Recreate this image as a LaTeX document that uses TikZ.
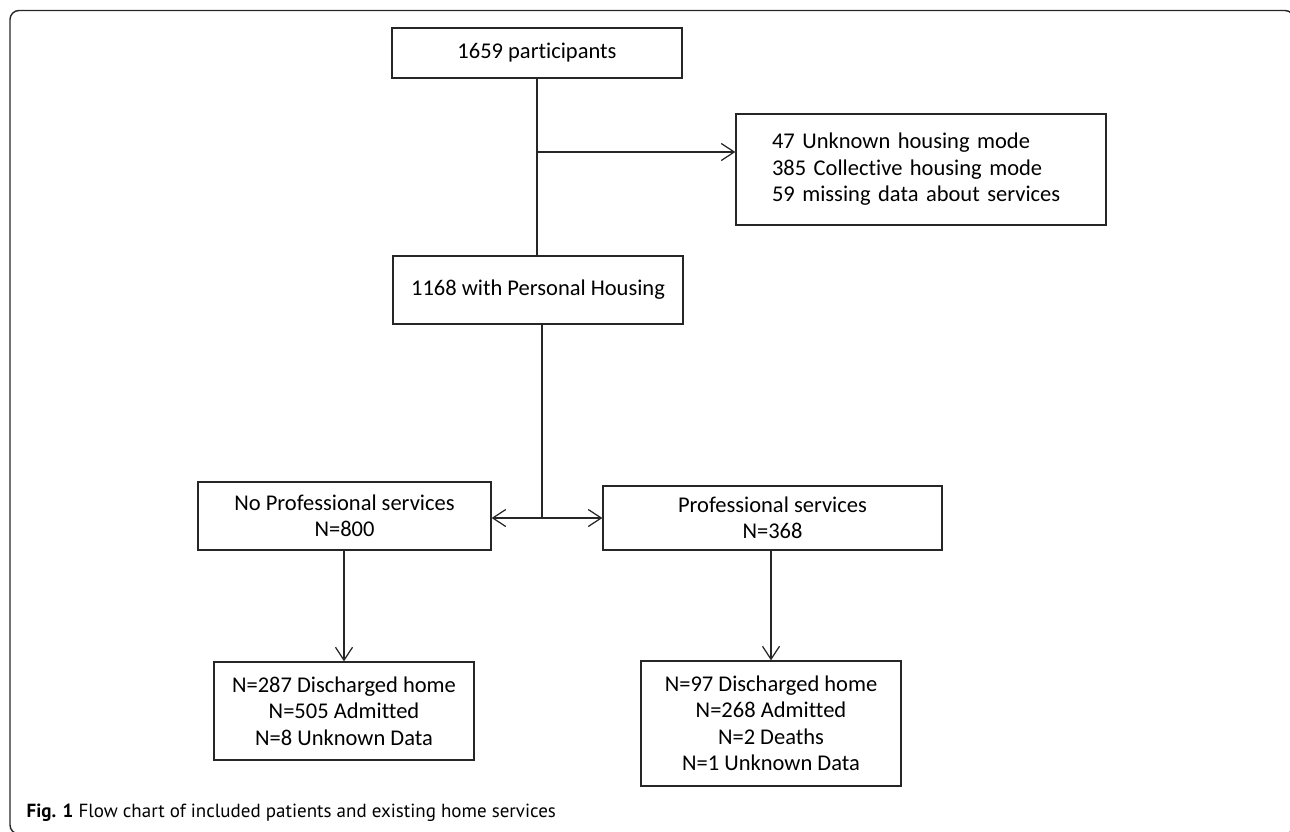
\documentclass[tikz,border=0pt]{standalone}
\usepackage{fontspec}
\setmainfont{Carlito}[Ligatures=NoCommon]
\newfontfamily\figfont{PT Sans}
\usetikzlibrary{arrows.meta}

\begin{document}
\begin{tikzpicture}[x=1pt, y=-1pt, line width=1.25pt, draw=black!85,
    box/.style={draw, inner sep=0pt, align=center,
        font=\fontsize{22.5pt}{26.5pt}\selectfont},
    arr/.style={-{Straight Barb[length=13pt,width=17pt]}}]

    \useasboundingbox (0,0) rectangle (1290,831);
    \draw [line width=1.4pt, rounded corners=9pt] (10,10.5) rectangle (1294,834);

    \node [box, minimum width=290pt, minimum height=50pt] (participants) at (537,53) {1659 participants};
    \node [box, text width=298pt, inner xsep=36pt, minimum height=111pt, align=left] (excluded) at (921,169.5)
        {47 Unknown housing mode\\385 Collective housing mode\\59 missing data about services};
    \node [box, minimum width=290pt, minimum height=68pt] (personal) at (538,290) {1168 with Personal Housing};
    \node [box, minimum width=293pt, minimum height=68pt] (noprof) at (344.5,516) {No Professional services\\N=800};
    \node [box, minimum width=339pt, minimum height=64pt] (prof) at (772.5,518) {Professional services\\N=368};
    \node [box, minimum width=260pt, minimum height=98pt] (noprofout) at (344,711)
        {N=287 Discharged home\\N=505 Admitted\\N=8 Unknown Data};
    \node [box, minimum width=260pt, minimum height=125pt] (profout) at (771,723.5)
        {N=97 Discharged home\\N=268 Admitted\\N=2 Deaths\\N=1 Unknown Data};

    \coordinate (split1) at (537,152);
    \coordinate (split2) at (542,518);

    \draw (participants.south -| split1) -- (split1 |- personal.north);
    \draw [arr] (split1) -- (split1 -| excluded.west);
    \draw (personal.south -| split2) -- (split2);
    \draw [arr] (split2) -- (split2 -| noprof.east);
    \draw [arr] (split2) -- (split2 -| prof.west);
    \draw [arr] (noprof.south -| noprofout.north) -- (noprofout.north);
    \draw [arr] (prof.south -| profout.north) -- (profout.north);

    \node [anchor=west, inner sep=0pt, font=\figfont\fontsize{19pt}{22pt}\selectfont] (caption) at (26,813)
        {\textbf{Fig. 1} Flow chart of included patients and existing home services};

\end{tikzpicture}
\end{document}
